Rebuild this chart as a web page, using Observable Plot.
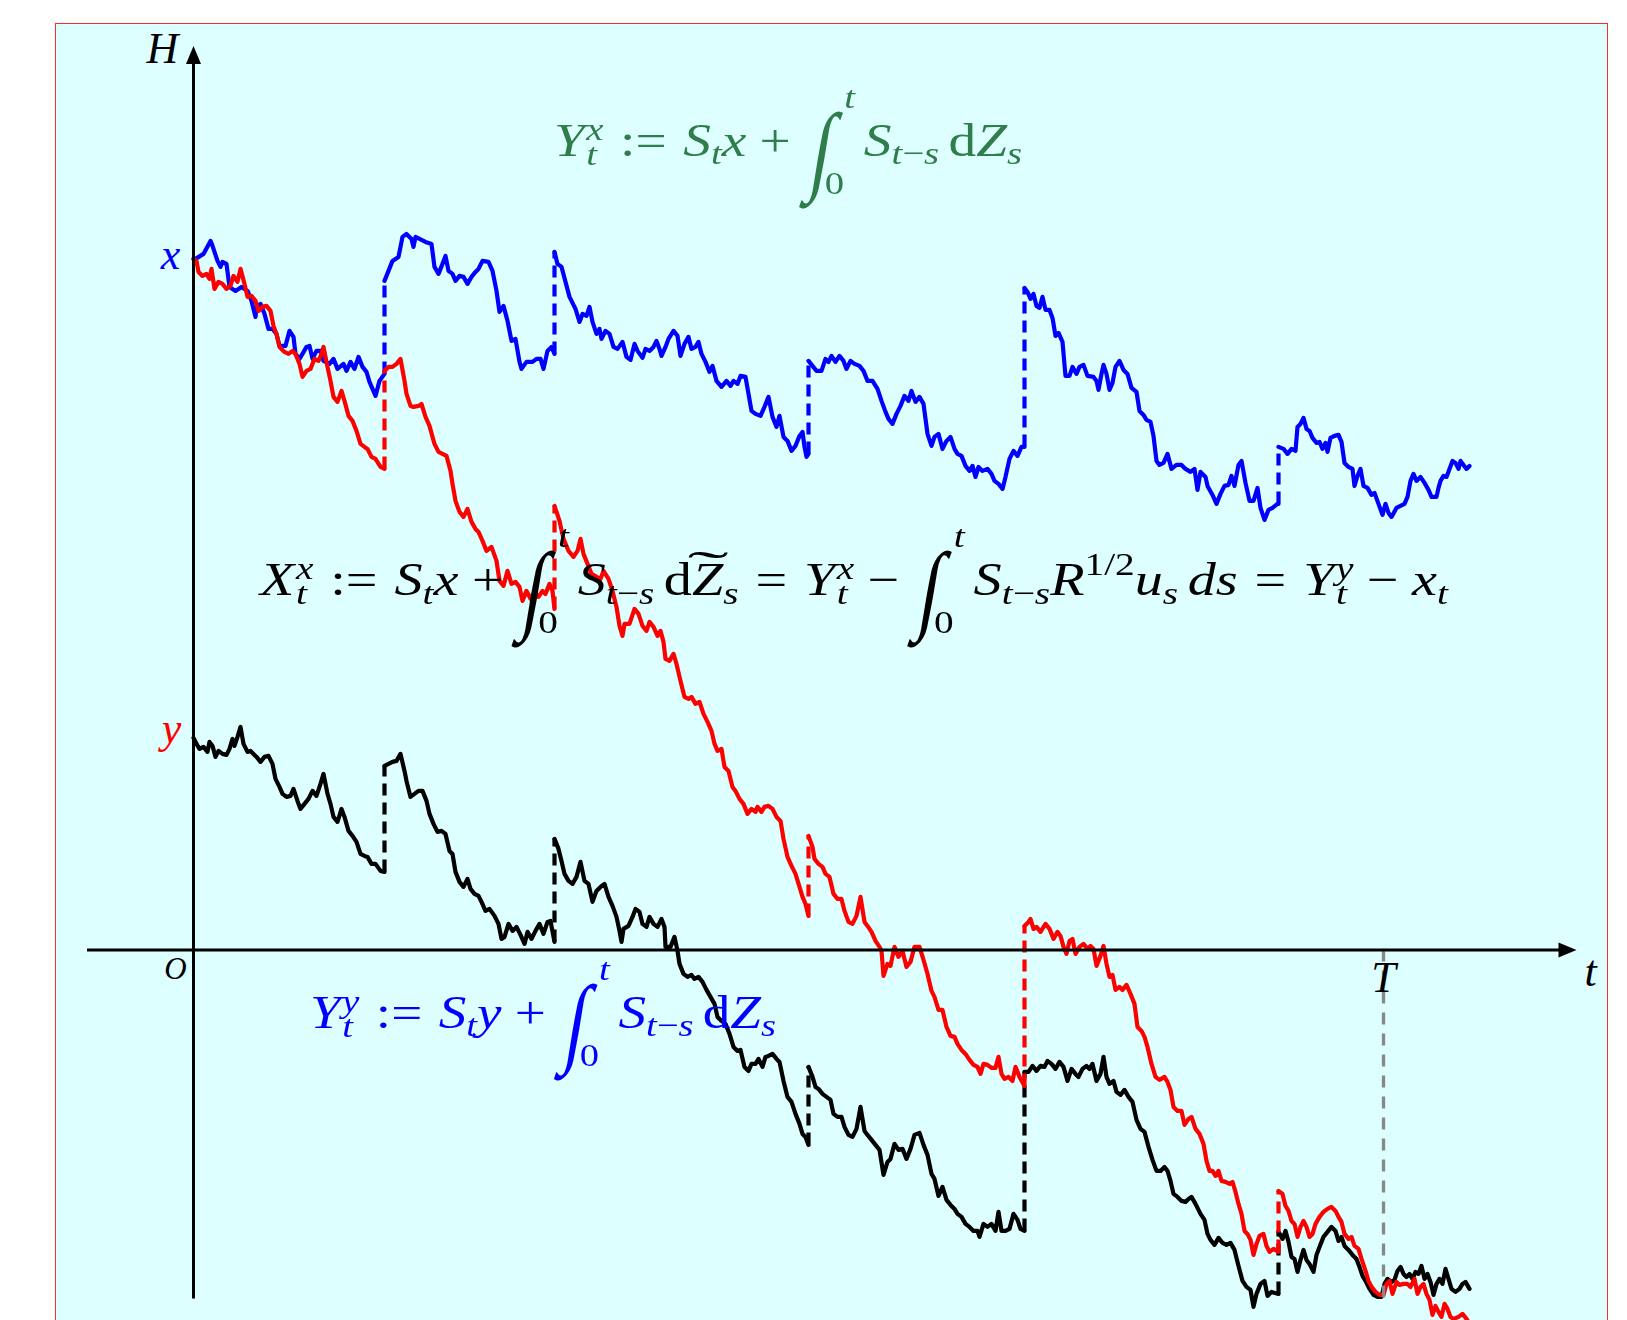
<!DOCTYPE html>
<html>
<head>
<meta charset="utf-8">
<script src="https://cdn.jsdelivr.net/npm/d3@7"></script>
<script src="https://cdn.jsdelivr.net/npm/@observablehq/plot@0.6"></script>
<style>
  html, body { margin: 0; padding: 0; background: #fff; overflow: hidden; }
  #wrap { position: relative; width: 1627px; height: 1320px; overflow: hidden; background: #fff; }
  #bg { position: absolute; left: 55px; right: 19px; top: 23px; bottom: -40px; background: #ddffff; border: 1.5px solid #ff2a2a; box-sizing: border-box; }
  #plot { position: absolute; left: 0; top: 0; }
  .f { position: absolute; left: 0; top: 0; white-space: nowrap; font-family: "Liberation Serif", "DejaVu Serif", serif; font-style: italic; font-size: 46px; line-height: 1; transform-origin: 0 0; }
  .bl { display: inline-block; width: 0; height: 0; }
  .u { font-style: normal; }
  .sb { font-size: 0.7em; vertical-align: -0.27em; }
  .sp { font-size: 0.7em; vertical-align: 0.62em; font-style: normal; }
  .ss { display: inline-block; font-size: 0.7em; line-height: 0.76; vertical-align: -0.27em; margin-left: 0.04em; }
  .ss > span { display: block; }
  .rel { font-style: normal; margin: 0 0.3em; }
  .bin { font-style: normal; margin: 0 0.24em; }
  .int { display: inline-block; font-style: normal; font-size: 2.15em; vertical-align: -0.26em; line-height: 0; margin-left: 0.02em; margin-right: -0.08em; transform: skewX(-8deg) scaleX(0.62); transform-origin: 50% 50%; }
  .lim { display: inline-block; position: relative; width: 0.62em; height: 0; }
  .lim > span { position: absolute; font-size: 0.7em; line-height: 1; }
  .lim .up { left: 0.38em; bottom: 1.32em; }
  .lim .lo { left: -0.12em; bottom: -1.35em; font-style: normal; }
  .th { display: inline-block; width: 0.17em; }
  .tz { display: inline-block; position: relative; }
  .tl { position: absolute; left: 0; right: 0; text-align: center; bottom: 0.27em; font-style: normal; transform: scaleX(2.2); }
</style>
</head>
<body>
<div id="wrap">
  <div id="bg"></div>
  <div id="plot"></div>
</div>
<script>
// ---- values (t: time, h: height above the t axis) ----
const T = 1190;          // terminal time T
const XLEVEL = 691;      // starting level x
const YLEVEL = 212;      // starting level y

const blueSegments = [ // Y^x_t
  [[0,691],[2,691],[10,696],[17,709],[19,704],[24,689],[27,683],[29,688],[33,686],[36,663],[42,659],[48,663],[54,659],[58,649],[62,633],[63,643],[67,646],[71,636],[75,621],[79,621],[83,616],[86,604],[92,604],[96,619],[100,613],[102,596],[106,591],[109,596],[113,603],[116,604],[119,591],[123,599],[127,599],[130,589],[136,586],[140,591],[144,581],[150,586],[153,579],[157,588],[161,581],[165,593],[169,583],[173,578],[176,568],[182,554],[186,569],[191,576]],
  [[191,669],[195,679],[199,689],[205,693],[209,713],[213,716],[218,711],[220,703],[222,713],[226,711],[232,708],[238,706],[241,683],[245,676],[249,686],[252,694],[255,679],[259,676],[262,669],[266,674],[270,673],[274,666],[278,673],[282,678],[285,681],[289,689],[295,688],[299,679],[303,659],[306,638],[310,644],[314,629],[318,609],[322,611],[326,588],[328,581],[333,588],[339,588],[343,591],[347,591],[350,581],[354,599],[358,603],[361,596]],
  [[361,698],[364,686],[368,683],[372,668],[376,653],[382,641],[386,628],[389,636],[393,634],[396,643],[399,628],[403,616],[406,621],[408,611],[412,619],[416,616],[420,603],[424,601],[429,608],[433,593],[437,590],[441,606],[444,599],[449,592],[452,601],[456,599],[460,603],[463,609],[466,601],[468,594],[472,603],[475,611],[480,619],[484,614],[487,594],[491,606],[495,613],[498,601],[502,603],[505,608],[508,596],[512,588],[516,578],[519,584],[523,569],[528,563],[533,569],[537,564],[540,569],[544,566],[547,574],[552,573],[555,556],[558,539],[562,536],[567,534],[571,543],[575,553],[579,533],[583,523],[586,534],[590,513],[594,509],[598,499],[602,504],[606,514],[609,518],[611,503],[613,493],[615,496]],
  [[615,589],[619,584],[623,579],[628,579],[632,591],[635,588],[638,594],[642,588],[646,594],[650,589],[653,581],[657,589],[661,586],[666,584],[670,579],[674,569],[679,569],[684,561],[688,549],[692,538],[695,531],[699,526],[703,536],[707,544],[711,554],[715,549],[718,559],[722,548],[726,553],[730,546],[734,516],[738,504],[741,513],[745,516],[749,501],[753,509],[757,513],[761,501],[764,496],[768,494],[772,484],[776,479],[779,484],[782,473],[785,483],[789,479],[794,481],[798,476],[801,469],[805,466],[809,461],[812,473],[816,491],[820,499],[824,494],[828,503],[831,503]],
  [[831,662],[834,658],[837,651],[840,656],[843,644],[846,642],[849,653],[852,640],[856,640],[859,632],[862,614],[865,617],[869,608],[872,574],[876,574],[879,583],[883,576],[886,583],[890,585],[894,574],[900,573],[903,569],[905,560],[908,576],[910,585],[913,576],[916,560],[919,567],[922,583],[926,589],[930,580],[934,576],[938,562],[943,558],[946,539],[950,535],[953,530],[957,528],[960,514],[963,489],[966,485],[970,487],[974,496],[978,481],[983,485],[988,485],[992,481],[997,478],[1001,481],[1004,460],[1007,478],[1012,473],[1014,464],[1019,455],[1023,446],[1027,456],[1031,464],[1035,465],[1038,474],[1041,464],[1045,485],[1048,489],[1052,467],[1056,449],[1060,449],[1064,462],[1067,442],[1071,430],[1075,440],[1079,442],[1084,446],[1085,446]],
  [[1085,503],[1090,501],[1094,496],[1098,501],[1102,499],[1104,523],[1107,526],[1110,532],[1113,521],[1116,519],[1119,512],[1123,507],[1126,508],[1129,501],[1132,507],[1134,498],[1137,512],[1141,514],[1145,515],[1148,508],[1151,487],[1155,483],[1159,481],[1161,464],[1164,474],[1167,481],[1170,464],[1174,462],[1178,455],[1181,457],[1185,446],[1189,435],[1192,446],[1195,437],[1198,433],[1203,442],[1207,444],[1211,446],[1214,453],[1217,469],[1220,476],[1223,469],[1227,473],[1231,467],[1235,460],[1238,453],[1243,453],[1245,462],[1247,469],[1250,474],[1253,473],[1256,481],[1259,489],[1262,487],[1265,481],[1267,489],[1270,485],[1273,481],[1276,484]]
];

const redSegments = [ // X^x_t
  [[0,691],[3,689],[5,678],[9,674],[13,676],[16,671],[18,681],[21,661],[25,668],[29,666],[33,661],[37,664],[40,674],[44,668],[47,681],[51,666],[54,653],[58,654],[62,649],[65,639],[69,643],[73,644],[77,639],[80,624],[83,616],[86,603],[91,598],[95,596],[99,599],[102,596],[106,586],[109,573],[113,579],[117,581],[121,591],[125,589],[128,596],[130,603],[134,583],[137,569],[140,553],[144,548],[148,559],[151,549],[155,534],[159,529],[163,519],[167,506],[171,503],[174,501],[178,493],[182,491],[187,483],[191,481]],
  [[191,579],[195,583],[199,583],[203,586],[207,591],[211,569],[213,556],[217,544],[220,543],[225,544],[228,546],[232,533],[236,524],[239,513],[241,506],[245,498],[249,496],[253,494],[257,479],[259,466],[262,449],[266,438],[270,433],[274,441],[278,428],[282,421],[285,418],[289,409],[293,399],[298,403],[303,389],[306,369],[310,364],[314,379],[318,366],[322,368],[326,363],[329,349],[333,359],[337,351],[341,358],[345,353],[349,359],[352,356],[356,366],[359,359],[361,341]],
  [[361,444],[366,429],[370,411],[375,399],[380,393],[384,399],[387,411],[390,396],[394,386],[398,376],[403,373],[407,371],[410,379],[415,371],[419,359],[423,343],[426,324],[429,314],[431,326],[436,326],[441,341],[445,336],[449,324],[453,319],[456,328],[460,323],[464,314],[467,319],[470,308],[472,291],[476,289],[480,296],[483,286],[487,269],[491,253],[495,251],[498,253],[502,246],[506,248],[510,236],[514,228],[518,219],[521,206],[524,199],[528,201],[531,183],[535,179],[539,163],[542,159],[546,151],[550,146],[554,136],[558,141],[562,138],[564,143],[568,138],[571,143],[575,144],[579,141],[583,133],[587,129],[590,111],[594,93],[598,84],[602,76],[606,63],[609,53],[612,46],[615,34]],
  [[615,114],[619,103],[621,91],[625,86],[629,83],[632,76],[636,73],[640,56],[644,51],[648,51],[651,39],[655,28],[659,26],[663,34],[667,53],[671,28],[674,24],[678,18],[682,9],[686,3],[688,-1],[690,-26],[694,-14],[697,-16],[701,3],[705,-7],[709,-1],[713,-17],[717,-12],[721,3],[726,3],[730,-10],[734,-24],[738,-41],[741,-47],[745,-60],[749,-60],[753,-77],[757,-86],[761,-87],[764,-94],[768,-100],[772,-104],[776,-110],[780,-115],[784,-117],[787,-124],[790,-114],[794,-115],[798,-118],[802,-118],[805,-107],[808,-124],[811,-129],[815,-127],[819,-131],[822,-117],[826,-127],[831,-136]],
  [[831,24],[835,28],[837,31],[840,21],[843,23],[847,18],[852,26],[856,21],[860,11],[864,18],[867,14],[870,3],[873,-4],[876,9],[879,11],[882,-4],[886,3],[890,6],[894,1],[897,4],[900,1],[903,-16],[907,-6],[910,4],[913,-14],[916,-27],[919,-25],[922,-40],[926,-37],[929,-40],[933,-35],[937,-44],[941,-54],[944,-77],[948,-81],[951,-87],[954,-97],[958,-114],[962,-127],[966,-130],[971,-127],[974,-132],[977,-140],[980,-157],[984,-161],[988,-161],[991,-175],[995,-169],[998,-167],[1002,-179],[1006,-184],[1010,-194],[1013,-211],[1016,-221],[1019,-221],[1022,-226],[1025,-221],[1028,-231],[1032,-232],[1036,-234],[1039,-232],[1042,-242],[1045,-254],[1048,-264],[1051,-281],[1054,-284],[1057,-290],[1060,-305],[1063,-294],[1066,-286],[1070,-284],[1073,-296],[1076,-302],[1080,-299],[1085,-302]],
  [[1085,-241],[1089,-244],[1092,-256],[1095,-261],[1098,-271],[1101,-274],[1104,-287],[1107,-277],[1110,-271],[1113,-277],[1116,-287],[1119,-284],[1122,-274],[1126,-267],[1130,-262],[1134,-259],[1138,-257],[1142,-261],[1145,-267],[1148,-272],[1151,-284],[1155,-289],[1158,-287],[1161,-296],[1165,-299],[1168,-309],[1172,-321],[1175,-331],[1178,-337],[1182,-342],[1186,-345],[1190,-345],[1193,-334],[1196,-331],[1199,-344],[1203,-332],[1206,-335],[1210,-334],[1214,-334],[1217,-337],[1221,-329],[1224,-344],[1227,-337],[1230,-334],[1233,-344],[1236,-350],[1239,-365],[1242,-356],[1245,-362],[1248,-367],[1251,-354],[1254,-359],[1257,-367],[1260,-369],[1265,-367],[1269,-364],[1273,-369],[1276,-374]]
];

const blackSegments = [ // Y^y_t
  [[0,212],[3,206],[6,201],[10,203],[14,198],[16,208],[19,204],[22,193],[25,199],[29,196],[33,195],[36,201],[39,211],[41,204],[44,213],[47,223],[50,206],[54,198],[57,199],[60,196],[63,193],[67,188],[71,193],[75,194],[79,186],[82,171],[86,163],[89,156],[93,153],[97,154],[100,161],[104,149],[107,141],[111,146],[115,151],[119,159],[123,154],[127,166],[130,176],[134,156],[137,146],[140,133],[144,128],[148,141],[151,133],[155,119],[159,114],[163,108],[167,96],[171,94],[174,93],[178,86],[182,86],[187,79],[191,78]],
  [[191,184],[195,186],[199,188],[203,189],[207,196],[211,179],[213,169],[217,153],[221,156],[225,159],[229,159],[233,149],[236,136],[240,126],[244,118],[248,119],[252,116],[256,99],[259,96],[262,78],[266,68],[270,63],[274,71],[277,61],[281,56],[285,54],[288,48],[292,39],[296,41],[301,34],[305,26],[308,11],[311,13],[315,26],[319,19],[323,23],[327,15],[331,6],[334,18],[338,11],[342,19],[346,26],[350,16],[354,28],[357,29],[361,8]],
  [[361,111],[365,101],[368,89],[371,76],[375,69],[379,66],[383,73],[387,88],[391,69],[395,66],[399,48],[403,59],[407,63],[411,66],[415,53],[419,44],[423,33],[426,19],[428,8],[430,21],[435,24],[439,33],[442,41],[446,38],[449,26],[453,23],[456,33],[460,26],[464,23],[468,31],[471,23],[472,3],[477,3],[481,13],[484,-1],[486,-14],[490,-24],[494,-27],[498,-25],[501,-29],[505,-27],[509,-32],[513,-40],[517,-47],[521,-54],[524,-67],[528,-71],[532,-74],[536,-84],[540,-97],[544,-101],[547,-100],[551,-117],[555,-121],[558,-114],[562,-114],[565,-109],[569,-117],[572,-107],[575,-106],[579,-104],[583,-109],[586,-112],[590,-131],[594,-147],[598,-152],[602,-164],[606,-174],[609,-184],[612,-187],[615,-195]],
  [[615,-117],[619,-127],[622,-137],[625,-139],[629,-144],[633,-147],[637,-150],[640,-164],[644,-167],[648,-167],[651,-177],[655,-185],[659,-187],[663,-179],[667,-157],[671,-181],[674,-185],[678,-190],[682,-195],[686,-200],[690,-225],[694,-212],[697,-209],[701,-194],[705,-200],[709,-199],[713,-209],[717,-199],[721,-185],[726,-183],[730,-195],[734,-205],[738,-224],[741,-229],[745,-246],[749,-237],[753,-250],[757,-255],[761,-259],[764,-264],[768,-267],[772,-274],[776,-277],[780,-281],[784,-281],[786,-287],[790,-274],[794,-277],[798,-274],[802,-281],[805,-262],[808,-281],[812,-281],[816,-279],[820,-264],[824,-270],[827,-279],[831,-281]],
  [[831,-122],[835,-122],[839,-116],[843,-121],[847,-116],[851,-117],[854,-111],[858,-114],[862,-119],[866,-112],[870,-117],[874,-131],[878,-119],[882,-124],[885,-127],[889,-119],[893,-116],[896,-119],[899,-114],[903,-131],[907,-124],[910,-107],[913,-127],[916,-134],[920,-131],[923,-142],[927,-145],[931,-140],[935,-147],[939,-152],[943,-170],[947,-179],[951,-182],[955,-197],[959,-210],[963,-221],[967,-221],[971,-217],[974,-221],[977,-231],[980,-244],[984,-247],[988,-251],[992,-252],[995,-249],[998,-247],[1002,-254],[1007,-264],[1011,-270],[1014,-284],[1017,-290],[1021,-295],[1025,-288],[1029,-293],[1033,-295],[1037,-293],[1041,-300],[1045,-316],[1049,-331],[1053,-337],[1057,-340],[1060,-357],[1063,-344],[1067,-334],[1071,-331],[1074,-346],[1078,-342],[1085,-344]],
  [[1085,-282],[1089,-289],[1092,-281],[1095,-292],[1098,-307],[1101,-309],[1104,-322],[1107,-310],[1110,-300],[1113,-310],[1116,-314],[1120,-322],[1123,-305],[1126,-297],[1130,-287],[1134,-282],[1138,-277],[1142,-281],[1145,-291],[1148,-287],[1151,-296],[1155,-300],[1159,-305],[1163,-309],[1166,-317],[1169,-326],[1172,-331],[1176,-339],[1180,-345],[1184,-347],[1188,-347],[1191,-334],[1194,-329],[1198,-332],[1201,-330],[1204,-321],[1207,-317],[1210,-324],[1213,-327],[1216,-324],[1219,-329],[1222,-322],[1225,-324],[1228,-316],[1231,-329],[1234,-324],[1237,-332],[1240,-345],[1243,-334],[1246,-329],[1249,-334],[1252,-319],[1255,-329],[1258,-339],[1262,-342],[1266,-339],[1269,-334],[1272,-332],[1276,-339]]
];

const axisT = [-106, 1383];   // horizontal axis extent (tip of arrow)
const axisH = [-349, 904];    // vertical axis extent (tip of arrow)
const tickLabels = { x: "x", y: "y", o: "O", T: "T", t: "t", H: "H" };

// ---- derived tables ----
const toRows = (segs) => segs.flatMap((seg, i) => seg.map(([t, h]) => ({seg: i, t, h})));
const toJumps = (segs) => segs.slice(1).map((seg, i) => ({t: seg[0][0], pre: segs[i][segs[i].length - 1][1], post: seg[0][1]}));

const arrowUp = { draw(ctx) { ctx.moveTo(0, -9); ctx.lineTo(7.5, 9); ctx.lineTo(-7.5, 9); ctx.closePath(); } };
const arrowRight = { draw(ctx) { ctx.moveTo(9, 0); ctx.lineTo(-9, 7.5); ctx.lineTo(-9, -7.5); ctx.closePath(); } };

const lw = 4.2, dash = "12,7";
const path = (segs, color) => [
  Plot.line(toRows(segs), {x: "t", y: "h", z: "seg", stroke: color, strokeWidth: lw, strokeLinejoin: "round", strokeLinecap: "round"}),
  Plot.ruleX(toJumps(segs), {x: "t", y1: "pre", y2: "post", stroke: color, strokeWidth: lw, strokeDasharray: dash})
];
const lab = {fontFamily: "Liberation Serif, DejaVu Serif, serif", fontStyle: "italic", fontSize: 44};

const chart = Plot.plot({
  width: 1627,
  height: 1320,
  style: {background: "transparent", overflow: "visible"},
  x: {domain: [0, T], range: [193, 1383], axis: null},
  y: {domain: [0, XLEVEL], range: [949.4, 258.4], axis: null},
  marks: [
    ...path(blueSegments, "#0000ff"),
    ...path(blackSegments, "#000000"),
    ...path(redSegments, "#ff0000"),
    Plot.ruleX([T], {y1: 0, y2: axisH[0], stroke: "#888888", strokeWidth: 3.3, strokeDasharray: "12,9"}),
    Plot.ruleY([0], {x1: axisT[0], x2: axisT[1] - 16, stroke: "black", strokeWidth: 3}),
    Plot.ruleX([0], {y1: axisH[0], y2: axisH[1] - 16, stroke: "black", strokeWidth: 3}),
    Plot.dot([0], {x: 0, y: axisH[1] - 9, symbol: arrowUp, r: 5, fill: "black", stroke: "none"}),
    Plot.dot([0], {x: axisT[1] - 9, y: 0, symbol: arrowRight, r: 5, fill: "black", stroke: "none"}),
    Plot.text([tickLabels.H], {...lab, x: 0, y: axisH[1], dx: -31, dy: 3, fill: "black"}),
    Plot.text([tickLabels.x], {...lab, x: 0, y: XLEVEL, dx: -23, dy: -4, fill: "#0000ff"}),
    Plot.text([tickLabels.y], {...lab, x: 0, y: YLEVEL, dx: -22, dy: -9, fill: "#ff0000"}),
    Plot.text([tickLabels.o], {...lab, fontSize: 31, x: 0, y: 0, dx: -18, dy: 19, fill: "black"}),
    Plot.text([tickLabels.T], {...lab, x: T, y: 0, dx: 0, dy: 28, fill: "black"}),
    Plot.text([tickLabels.t], {...lab, x: axisT[1], y: 0, dx: 14, dy: 22, fill: "black"})
  ]
});
document.getElementById("plot").appendChild(chart);

// ---- formulas (real text) ----
const ss = (a, b) => `<span class="ss"><span>${a}</span><span>${b}</span></span>`;
const sb = (a) => `<span class="sb">${a}</span>`;
const integ = `<span class="int">∫</span><span class="lim"><span class="up">t</span><span class="lo">0</span></span>`;
const tms = `<i>t</i><span class="u">−</span><i>s</i>`;
const rel = (s) => `<span class="rel">${s}</span>`;
const bin = (s) => `<span class="bin">${s}</span>`;

const formulas = [
  { html: `<i>Y</i>${ss("x","t")}${rel(":=")}<i>S</i>${sb("t")}<i>x</i>${bin("+")}${integ}<i>S</i>${sb(tms)}<span class="th"></span><span class="u">d</span><i>Z</i>${sb("s")}`,
    left: 554, base: 156, width: 468, color: "#2e7d4a" },
  { html: `<i>X</i>${ss("x","t")}${rel(":=")}<i>S</i>${sb("t")}<i>x</i>${bin("+")}${integ}<i>S</i>${sb(tms)}<span class="th"></span><span class="u">d</span><span class="tz"><i>Z</i><span class="tl">˜</span></span>${sb("s")}${rel("=")}<i>Y</i>${ss("x","t")}${bin("−")}${integ}<i>S</i>${sb(tms)}<i>R</i><span class="sp">1/2</span><i>u</i>${sb("s")}<span class="th"></span><i>ds</i>${rel("=")}<i>Y</i>${ss("y","t")}${bin("−")}<i>x</i>${sb("t")}`,
    left: 260, base: 595, width: 1188, color: "#000000" },
  { html: `<i>Y</i>${ss("y","t")}${rel(":=")}<i>S</i>${sb("t")}<i>y</i>${bin("+")}${integ}<i>S</i>${sb(tms)}<span class="th"></span><span class="u">d</span><i>Z</i>${sb("s")}`,
    left: 310, base: 1028, width: 466, color: "#0000ff" }
];

const wrap = document.getElementById("wrap");
for (const f of formulas) {
  const d = document.createElement("div");
  d.className = "f";
  d.style.color = f.color;
  d.innerHTML = `<span class="bl"></span>` + f.html;
  wrap.appendChild(d);
  const mark = d.querySelector(".bl");
  const b0 = mark.getBoundingClientRect().bottom;
  const w0 = d.getBoundingClientRect().width;
  d.style.top = (f.base - b0) + "px";
  d.style.left = f.left + "px";
  d.style.transform = `scaleX(${f.width / w0})`;
}
</script>
</body>
</html>
